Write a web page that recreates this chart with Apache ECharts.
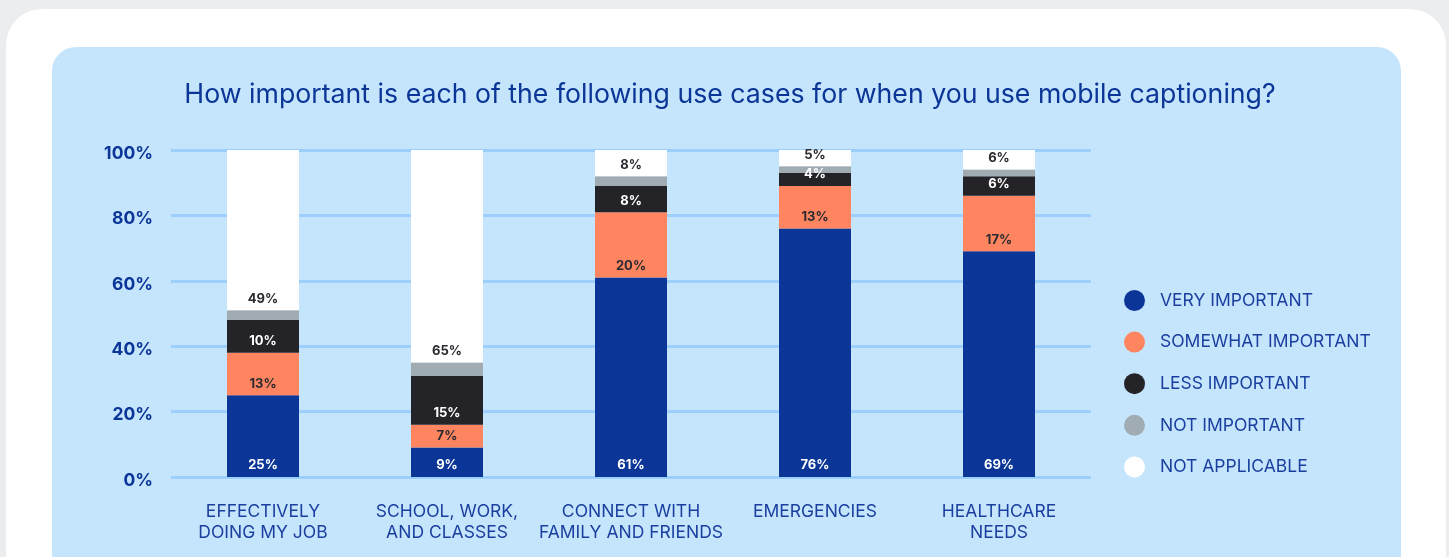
<!DOCTYPE html>
<html>
<head>
<meta charset="utf-8">
<script src="https://cdn.jsdelivr.net/npm/echarts@6/dist/echarts.min.js"></script>
<style>
  html, body { margin: 0; padding: 0; background: #ecedef; }
  #chart { width: 1449px; height: 557px; }
</style>
</head>
<body>
<div id="chart"></div>
<script>
// Survey: importance of mobile captioning use cases (percent of respondents)
const categories = [
  'EFFECTIVELY\nDOING MY JOB',
  'SCHOOL, WORK,\nAND CLASSES',
  'CONNECT WITH\nFAMILY AND FRIENDS',
  'EMERGENCIES',
  'HEALTHCARE\nNEEDS'
];
const seriesNames = ['VERY IMPORTANT', 'SOMEWHAT IMPORTANT', 'LESS IMPORTANT', 'NOT IMPORTANT', 'NOT APPLICABLE'];
const veryImportant     = [25, 9, 61, 76, 69];
const somewhatImportant = [13, 7, 20, 13, 17];
const lessImportant     = [10, 15, 8, 4, 6];
const notImportant      = [3, 4, 3, 2, 2];
const notApplicable     = [49, 65, 8, 5, 6];
const yTicks = [0, 20, 40, 60, 80, 100];

const FONT = 'Inter, "Noto Sans", sans-serif';
const NAVY = '#0b3596';
const TEXT_BLUE = '#1a3f9f';
const colors = ['#0b3596', '#ff8560', '#232328', '#a0abb2', '#ffffff'];
const labelColors = ['#ffffff', '#2a2a30', '#ffffff', null, '#2a2a30'];
const values = [veryImportant, somewhatImportant, lessImportant, notImportant, notApplicable];

const chart = echarts.init(document.getElementById('chart'), null, { renderer: 'canvas' });

const series = seriesNames.map((name, i) => ({
  name,
  type: 'bar',
  stack: 'total',
  barWidth: 72,
  data: values[i],
  itemStyle: { color: colors[i] },
  label: {
    show: labelColors[i] !== null,
    position: 'insideBottom',
    distance: 5,
    color: labelColors[i] || '#fff',
    fontFamily: FONT,
    fontSize: 13,
    fontWeight: 'bold',
    formatter: '{c}%'
  },
  emphasis: { disabled: true }
}));

chart.setOption({
  animation: false,
  backgroundColor: 'transparent',
  textStyle: { fontFamily: FONT },
  graphic: [
    { type: 'rect', z: -10, silent: true,
      shape: { x: 6, y: 9, width: 1440, height: 620, r: 36 },
      style: { fill: '#ffffff' } },
    { type: 'rect', z: -9, silent: true,
      shape: { x: 52, y: 47, width: 1349, height: 580, r: 24 },
      style: { fill: '#c5e5fd' } }
  ],
  title: {
    text: 'How important is each of the following use cases for when you use mobile captioning?',
    left: 725,
    textAlign: 'center',
    top: 76,
    textStyle: { fontFamily: FONT, fontSize: 26.7, fontWeight: 'normal', color: NAVY }
  },
  legend: {
    orient: 'vertical',
    left: 1124,
    top: 290,
    padding: 0,
    icon: 'circle',
    itemWidth: 21,
    itemHeight: 21,
    itemGap: 20.6,
    selectedMode: false,
    data: seriesNames,
    itemStyle: { borderWidth: 0 },
    textStyle: { fontFamily: FONT, fontSize: 17.5, color: TEXT_BLUE, padding: [0, 0, 0, 10] }
  },
  grid: { left: 171, right: 358, top: 150, bottom: 80, containLabel: false },
  xAxis: {
    type: 'category',
    data: categories,
    axisLine: { show: false },
    axisTick: { show: false },
    axisLabel: {
      interval: 0,
      margin: 24,
      fontFamily: FONT,
      fontSize: 17.5,
      lineHeight: 21,
      color: TEXT_BLUE
    }
  },
  yAxis: {
    type: 'value',
    min: yTicks[0],
    max: yTicks[yTicks.length - 1],
    interval: yTicks[1] - yTicks[0],
    axisLine: { show: false },
    axisTick: { show: false },
    axisLabel: {
      margin: 18,
      verticalAlign: 'top',
      lineHeight: 7,
      fontFamily: FONT,
      fontSize: 17.5,
      fontWeight: 'bold',
      color: NAVY,
      formatter: '{value}%'
    },
    splitLine: { lineStyle: { color: '#9ccffc', width: 3 } }
  },
  series
});
</script>
</body>
</html>
